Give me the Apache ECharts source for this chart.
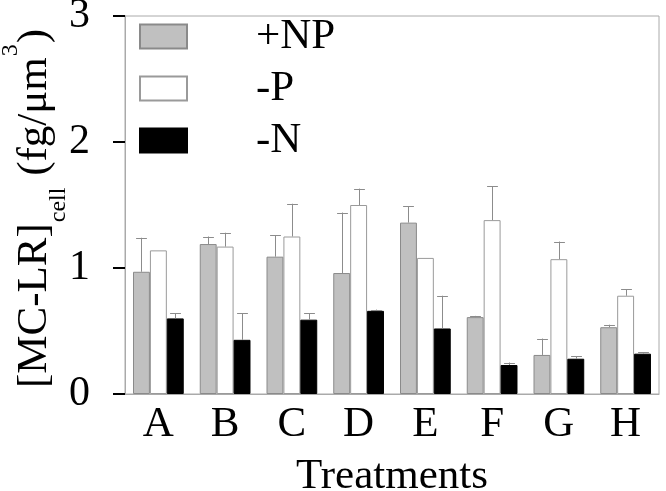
<!DOCTYPE html>
<html>
<head>
<meta charset="utf-8">
<script src="https://cdn.jsdelivr.net/npm/echarts@6/dist/echarts.min.js"></script>
<style>html,body{margin:0;padding:0;background:#fff}#c{width:666px;height:491px}</style>
</head>
<body>
<div id="c"></div>
<script>
const categories = ['A','B','C','D','E','F','G','H'];
const seriesNames = ['+NP','-P','-N'];
const npValues = [0.97, 1.19, 1.09, 0.96, 1.36, 0.61, 0.31, 0.53];
const npErrors = [0.27, 0.06, 0.17, 0.48, 0.13, 0.01, 0.13, 0.02];
const pValues  = [1.14, 1.17, 1.25, 1.50, 1.08, 1.38, 1.07, 0.78];
const pErrors  = [0,    0.11, 0.26, 0.13, 0,    0.27, 0.14, 0.05];
const nValues  = [0.60, 0.43, 0.59, 0.66, 0.52, 0.23, 0.28, 0.32];
const nErrors  = [0.04, 0.21, 0.05, 0.01, 0.26, 0.02, 0.02, 0.01];
const yTicks = [0, 1, 2, 3];
const yTitleParts = ['[MC-LR]', 'cell', ' (fg/μm', '3', ')'];

const FONT = "'Liberation Serif', 'Times New Roman', serif";
const catGap = 0.24;
const values = [npValues, pValues, nValues];
const errors = [npErrors, pErrors, nErrors];
const fills = ['#c0c0c0', '#ffffff', '#000000'];
const borders = ['#8a8a8a', '#9a9a9a', '#000000'];

// text metrics helper for the rotated y-axis title (sub/superscripts)
const mctx = document.createElement('canvas').getContext('2d');
function fontStr(size) { return size + 'px ' + FONT; }
function textW(t, size) { mctx.font = fontStr(size); return mctx.measureText(t).width; }
function baseOff(size) { mctx.font = fontStr(size); mctx.textBaseline = 'middle'; return mctx.measureText('M').actualBoundingBoxDescent; }

function buildYTitle() {
  const big = 43, small = 24;
  const kinds = ['m', 's', 'm', 'p', 'm'];
  const shift = {m: 0, s: 19, p: -29};
  const gap = {m: 0, s: 1, p: 1};
  let x = 0;
  const children = [];
  yTitleParts.forEach((t, i) => {
    const k = kinds[i];
    const size = k === 'm' ? big : small;
    x += gap[k];
    children.push({
      type: 'text', x: x, y: shift[k] - baseOff(size),
      style: {text: t, font: fontStr(size), fill: '#000', align: 'left', verticalAlign: 'middle'}
    });
    x += textW(t, size) + gap[k];
  });
  return {type: 'group', x: 46, y: 388, rotation: Math.PI / 2, silent: true, children: children};
}

const chart = echarts.init(document.getElementById('c'), null, {renderer: 'canvas'});

function errSeries(k) {
  return {
    type: 'custom',
    z: 5,
    silent: true,
    encode: {x: 0, y: 1},
    data: categories.map((c, i) => [i, values[k][i], errors[k][i]]),
    renderItem: function (params, api) {
      const e = api.value(2);
      if (!e) return null;
      const i = api.value(0), v = api.value(1);
      const base = api.coord([i, v]);
      const top = api.coord([i, v + e]);
      const cw = api.size([1, 0])[0];
      const bw = cw * (1 - catGap) / 3;
      const cx = Math.round(base[0] + (k - 1) * bw) + 0.5;
      const half = bw * 0.32;
      const st = {stroke: '#8c8c8c', lineWidth: 1};
      return {type: 'group', children: [
        {type: 'line', shape: {x1: cx, y1: base[1], x2: cx, y2: top[1]}, style: st},
        {type: 'line', shape: {x1: cx - half, y1: Math.round(top[1]) + 0.5, x2: cx + half, y2: Math.round(top[1]) + 0.5}, style: st}
      ]};
    }
  };
}

const barSeries = seriesNames.map((name, k) => ({
  name: name,
  type: 'bar',
  data: values[k],
  barGap: '0%',
  barCategoryGap: (catGap * 100) + '%',
  itemStyle: {color: fills[k], borderColor: borders[k], borderWidth: 1},
  emphasis: {disabled: true}
}));

chart.setOption({
  animation: false,
  backgroundColor: '#fff',
  textStyle: {fontFamily: FONT},
  grid: {left: 125, right: 7, top: 16, bottom: 97, containLabel: false, outerBoundsMode: 'none',
    show: true, borderColor: '#aaaaaa', borderWidth: 1, backgroundColor: 'transparent'},
  legend: {
    orient: 'vertical',
    left: 134, top: 10,
    itemWidth: 47, itemHeight: 24, itemGap: 9,
    icon: 'rect',
    selectedMode: false,
    data: seriesNames,
    textStyle: {fontFamily: FONT, fontSize: 43, color: '#000', lineHeight: 43, padding: [0, 0, 0, 64]}
  },
  graphic: [buildYTitle()],
  xAxis: {
    type: 'category',
    data: categories,
    name: 'Treatments',
    nameLocation: 'middle',
    nameGap: 61,
    nameTextStyle: {fontFamily: FONT, fontSize: 43, color: '#000'},
    axisLine: {lineStyle: {color: '#aaaaaa', width: 1}},
    axisTick: {show: true, inside: true, alignWithLabel: true, length: 2, lineStyle: {color: '#000', width: 2}},
    axisLabel: {fontFamily: FONT, fontSize: 43, color: '#000', margin: 9}
  },
  yAxis: {
    type: 'value',
    min: 0, max: 3, interval: 1,
    splitLine: {show: false},
    axisLine: {show: true, lineStyle: {color: '#aaaaaa', width: 1}},
    axisTick: {show: true, length: 12, lineStyle: {color: '#000', width: 2}},
    axisLabel: {fontFamily: FONT, fontSize: 42, color: '#000', margin: 35,
      formatter: v => yTicks.indexOf(v) >= 0 ? String(v) : ''}
  },
  series: barSeries.concat([errSeries(0), errSeries(1), errSeries(2)])
});
</script>
</body>
</html>
